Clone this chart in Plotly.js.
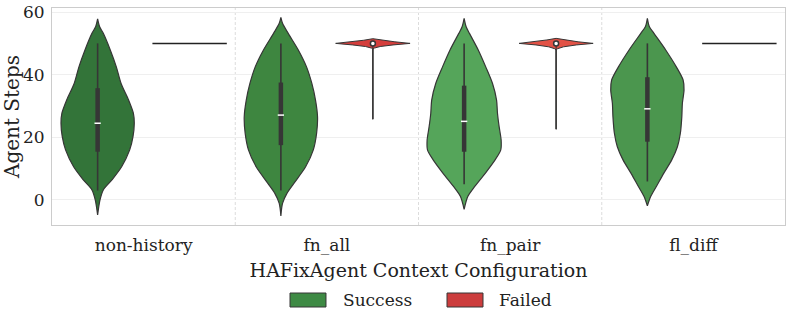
<!DOCTYPE html>
<html><head><meta charset="utf-8">
<script src="https://cdn.plot.ly/plotly-3.0.1.min.js"></script>
<style>html,body{margin:0;padding:0;background:#fff}#chart{width:793px;height:323px}</style>
</head><body><div id="chart"></div>
<script>
const categories = ['non-history', 'fn_all', 'fn_pair', 'fl_diff'];
const seriesNames = ['Success', 'Failed'];

// Success violin density profiles (Agent Steps value, half-width in category units)
const successY_nonHistory = [-4.8, 0.0, 3.2, 6.4, 10.6, 16.0, 20.2, 24.5, 27.7, 31.9, 37.2, 42.5, 47.9, 53.2, 55.3, 57.8];
const successW_nonHistory = [0, 0.013, 0.031, 0.078, 0.131, 0.175, 0.193, 0.200, 0.195, 0.169, 0.128, 0.102, 0.069, 0.031, 0.011, 0];
const successY_fnAll = [-5.1, -1.1, 2.1, 5.3, 10.6, 16.0, 21.3, 26.6, 31.9, 37.2, 42.5, 47.9, 53.2, 56.4, 58.3];
const successW_fnAll = [0, 0.009, 0.033, 0.071, 0.135, 0.177, 0.195, 0.200, 0.189, 0.169, 0.140, 0.095, 0.040, 0.009, 0];
const successY_fnPair = [-3.0, 1.1, 4.3, 8.5, 12.8, 16.0, 19.1, 23.4, 27.7, 31.9, 37.2, 42.5, 47.9, 53.2, 55.3, 58.0];
const successW_fnPair = [0, 0.020, 0.058, 0.115, 0.169, 0.200, 0.202, 0.191, 0.182, 0.177, 0.155, 0.118, 0.077, 0.029, 0.011, 0];
const successY_flDiff = [-1.9, 1.1, 4.3, 8.5, 12.8, 17.0, 21.3, 26.6, 30.9, 35.1, 38.3, 42.5, 47.9, 53.2, 55.3, 58.0];
const successW_flDiff = [0, 0.018, 0.049, 0.089, 0.133, 0.164, 0.180, 0.188, 0.191, 0.200, 0.195, 0.158, 0.100, 0.036, 0.011, 0];

// Failed violin density profiles
const failedY_nonHistory = [50];
const failedW_nonHistory = [0.203];
const failedY_fnAll = [25.8, 48.2, 48.5, 49.0, 49.5, 50.0, 50.5, 51.0, 51.5];
const failedW_fnAll = [0.0005, 0.0005, 0.008, 0.04, 0.11, 0.203, 0.12, 0.05, 0];
const failedY_fnPair = [22.6, 47.9, 48.3, 48.9, 49.5, 50.0, 50.5, 51.1, 51.6];
const failedW_fnPair = [0.0005, 0.0005, 0.008, 0.04, 0.11, 0.202, 0.12, 0.05, 0];
const failedY_flDiff = [50];
const failedW_flDiff = [0.203];

// Inner box statistics
const successWhiskerLow = [3.0, 3.0, 5.0, 5.9];
const successQ1 = [15.4, 17.5, 15.4, 18.6];
const successMedian = [24.5, 27.1, 25.1, 29.1];
const successQ3 = [35.7, 37.5, 36.5, 39.2];
const successWhiskerHigh = [50, 50, 50, 50];
const failedWhiskerLow = [null, 25.8, 22.6, null];
const failedMedian = [null, 50, 50, null];
const failedWhiskerHigh = [null, 50, 50, null];

const successColors = ['#337439', '#3e8640', '#55a55a', '#4b964e'];
const failedColors = ['#d43e3c', '#d43e3c', '#e25246', '#d43e3c'];
const legendColors = ['#3e8a44', '#cc3d3d'];

const successProfiles = [
  [successY_nonHistory, successW_nonHistory],
  [successY_fnAll, successW_fnAll],
  [successY_fnPair, successW_fnPair],
  [successY_flDiff, successW_flDiff]
];
const failedProfiles = [
  [failedY_nonHistory, failedW_nonHistory],
  [failedY_fnAll, failedW_fnAll],
  [failedY_fnPair, failedW_fnPair],
  [failedY_flDiff, failedW_flDiff]
];

const OFFSET = 0.251;
const EDGE = '#363636';
const FONT = '"DejaVu Serif", serif';

function violinPath(cx, ys, ws) {
  const xs = [], yy = [];
  for (let i = 0; i < ys.length; i++) { xs.push(cx + ws[i]); yy.push(ys[i]); }
  for (let i = ys.length - 1; i >= 0; i--) { xs.push(cx - ws[i]); yy.push(ys[i]); }
  if (ys.length > 1) { xs.push(xs[0]); yy.push(yy[0]); }
  return [xs, yy];
}

const traces = [];
categories.forEach((c, i) => {
  const sx = i - OFFSET;
  const [px, py] = violinPath(sx, successProfiles[i][0], successProfiles[i][1]);
  traces.push({x: px, y: py, type: 'scatter', mode: 'lines', fill: 'toself',
    fillcolor: successColors[i], line: {color: EDGE, width: 1.2, shape: 'spline', smoothing: 0.8},
    hoverinfo: 'skip', showlegend: false});
  const fx = i + OFFSET;
  const [qx, qy] = violinPath(fx, failedProfiles[i][0], failedProfiles[i][1]);
  const flat = qy.length <= 2;
  traces.push({x: qx, y: qy, type: 'scatter', mode: 'lines', fill: flat ? 'none' : 'toself',
    fillcolor: failedColors[i], line: {color: flat ? '#222222' : EDGE, width: flat ? 1.5 : 1.0},
    hoverinfo: 'skip', showlegend: false});
  traces.push({x: [sx, sx], y: [successWhiskerLow[i], successWhiskerHigh[i]], type: 'scatter', mode: 'lines',
    line: {color: EDGE, width: 1.6}, hoverinfo: 'skip', showlegend: false});
  traces.push({x: [sx, sx], y: [successQ1[i], successQ3[i]], type: 'scatter', mode: 'lines',
    line: {color: EDGE, width: 4.5}, hoverinfo: 'skip', showlegend: false});
  traces.push({x: [sx], y: [successMedian[i]], type: 'scatter', mode: 'markers',
    marker: {symbol: 'line-ew', size: 4.5, line: {color: '#ffffff', width: 1.5}}, hoverinfo: 'skip', showlegend: false});
  if (failedMedian[i] !== null) {
    traces.push({x: [fx, fx], y: [failedWhiskerLow[i], failedWhiskerHigh[i]], type: 'scatter', mode: 'lines',
      line: {color: EDGE, width: 1.1}, hoverinfo: 'skip', showlegend: false});
    traces.push({x: [fx], y: [failedMedian[i]], type: 'scatter', mode: 'markers',
      marker: {symbol: 'circle', size: 5, color: '#ffffff', line: {color: EDGE, width: 1.5}}, hoverinfo: 'skip', showlegend: false});
  }
});

const shapes = [];
for (let i = 0; i < categories.length - 1; i++) {
  shapes.push({type: 'line', xref: 'x', yref: 'paper', x0: i + 0.5, x1: i + 0.5, y0: 0, y1: 1,
    line: {color: '#dcdcdc', width: 1, dash: '3px,2px'}, layer: 'below'});
}
const legendX = [[0.3247, 0.3738], [0.5389, 0.5880]];
const legendTextX = [0.3943, 0.6071];
const annotations = [];
seriesNames.forEach((n, k) => {
  shapes.push({type: 'rect', xref: 'paper', yref: 'paper', x0: legendX[k][0], x1: legendX[k][1],
    y0: -0.3779, y1: -0.3134, fillcolor: legendColors[k], line: {color: EDGE, width: 1}});
  annotations.push({xref: 'paper', yref: 'paper', x: legendTextX[k], y: -0.3456, xanchor: 'left', yanchor: 'middle',
    text: n, showarrow: false, font: {family: FONT, size: 17, color: '#222'}});
});

const layout = {
  width: 793, height: 323,
  margin: {l: 52, r: 8, t: 8, b: 98},
  paper_bgcolor: '#ffffff', plot_bgcolor: '#ffffff',
  showlegend: false,
  font: {family: FONT, color: '#222'},
  xaxis: {
    range: [-0.5, 3.5], tickvals: categories.map((c, i) => i), ticktext: categories,
    showgrid: false, zeroline: false, showline: true, mirror: true, linecolor: '#cccccc', linewidth: 1,
    ticks: '', ticklabelstandoff: 5, tickfont: {family: FONT, size: 17, color: '#222'},
    title: {text: 'HAFixAgent Context Configuration', font: {family: FONT, size: 19, color: '#222'}, standoff: 9},
    automargin: false
  },
  yaxis: {
    range: [-8.0, 61.3], tickvals: [0, 20, 40, 60],
    showgrid: true, gridcolor: '#efefef', gridwidth: 1, zeroline: false,
    showline: true, mirror: true, linecolor: '#cccccc', linewidth: 1,
    ticks: '', ticklabelstandoff: 3, tickfont: {family: FONT, size: 17, color: '#222'},
    title: {text: 'Agent Steps', font: {family: FONT, size: 20, color: '#222'}, standoff: 5},
    automargin: false
  },
  shapes: shapes,
  annotations: annotations
};

Plotly.newPlot('chart', traces, layout, {displayModeBar: false, staticPlot: true});
</script></body></html>
